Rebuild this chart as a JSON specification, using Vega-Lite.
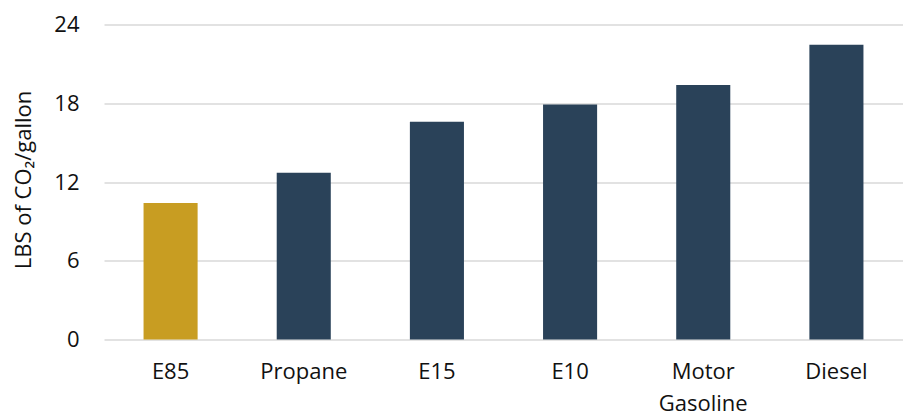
{
  "$schema": "https://vega.github.io/schema/vega-lite/v6.json",
  "autosize": {"type": "none"},
  "width": 799,
  "height": 315,
  "padding": {"left": 104, "top": 24.5, "right": 0, "bottom": 76.5},
  "background": "white",
  "data": {
    "values": [
      {"fuel": "E85", "co2": 10.4},
      {"fuel": "Propane", "co2": 12.7},
      {"fuel": "E15", "co2": 16.6},
      {"fuel": "E10", "co2": 17.9},
      {"fuel": "Motor Gasoline", "co2": 19.4},
      {"fuel": "Diesel", "co2": 22.45}
    ]
  },
  "config": {
    "view": {"stroke": null},
    "font": "Open Sans"
  },
  "mark": {"type": "bar"},
  "encoding": {
    "x": {
      "field": "fuel",
      "type": "nominal",
      "sort": null,
      "scale": {"paddingInner": 0.594, "paddingOuter": 0.297},
      "axis": {
        "title": null,
        "domain": false,
        "ticks": false,
        "labelAngle": 0,
        "labelFontSize": 22,
        "labelColor": "#111111",
        "labelPadding": 22,
        "labelLineHeight": 32,
        "labelExpr": "datum.value == 'Motor Gasoline' ? ['Motor', 'Gasoline'] : datum.value"
      }
    },
    "y": {
      "field": "co2",
      "type": "quantitative",
      "scale": {"domain": [0, 24]},
      "axis": {
        "title": "LBS of CO₂/gallon",
        "titleFontSize": 22,
        "titleFontWeight": "normal",
        "titleColor": "#111111",
        "titleX": -81,
        "titleY": 155,
        "titleAngle": -90,
        "titleAlign": "center",
        "titleBaseline": "middle",
        "values": [0, 6, 12, 18, 24],
        "domain": false,
        "ticks": false,
        "labelFontSize": 22,
        "labelColor": "#111111",
        "labelPadding": 25,
        "gridColor": "#d9d9d9",
        "gridWidth": 1.5
      }
    },
    "color": {
      "condition": {"test": "datum.fuel === 'E85'", "value": "#C89D22"},
      "value": "#2A4259"
    }
  }
}
